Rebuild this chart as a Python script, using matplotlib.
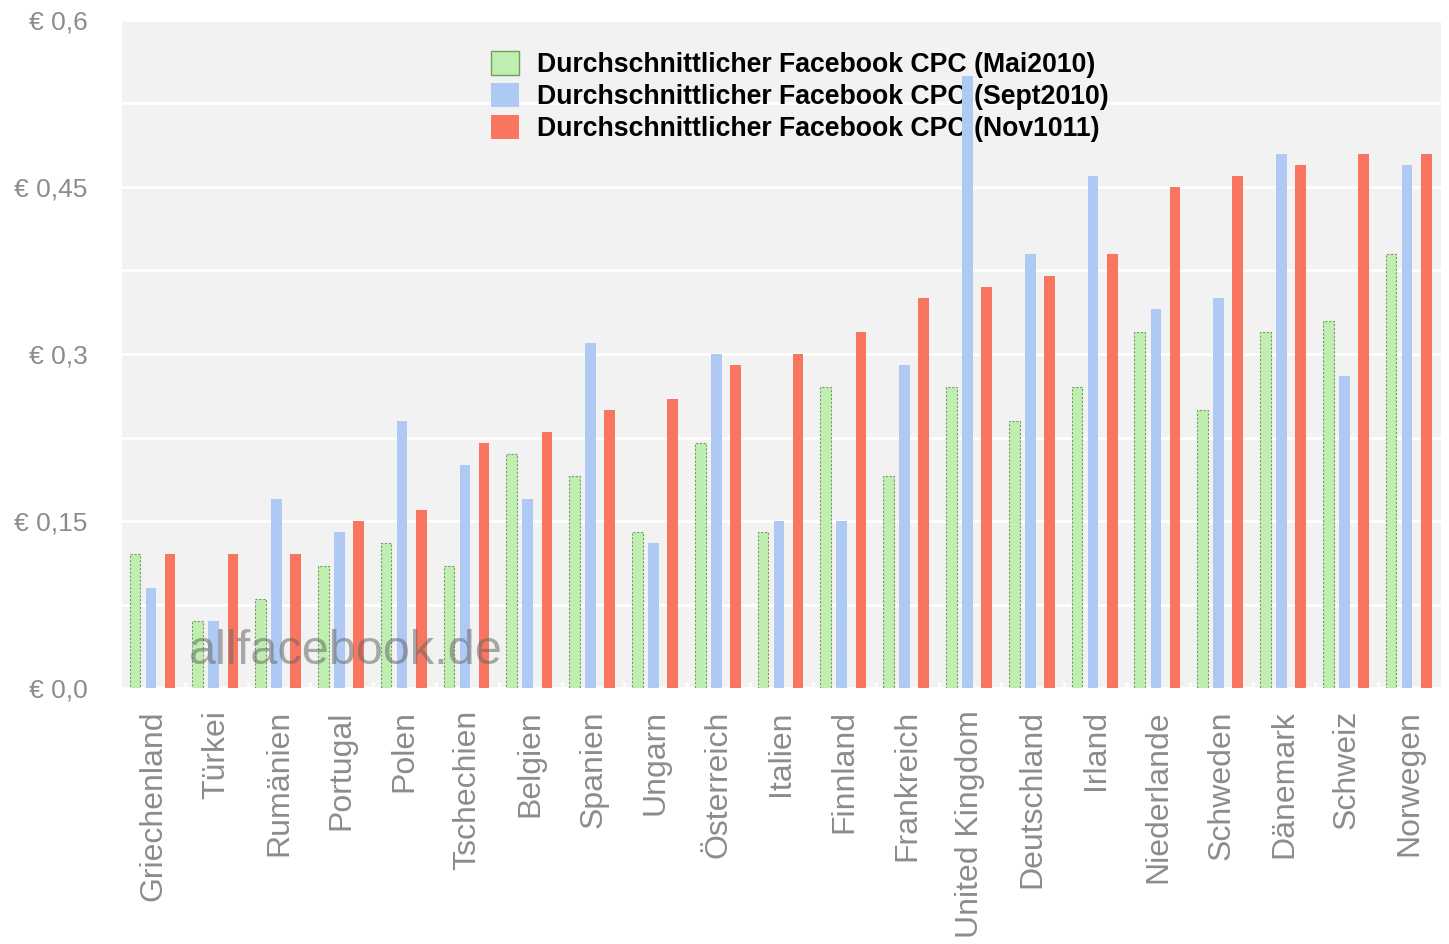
import matplotlib
matplotlib.use("Agg")
import matplotlib.pyplot as plt
import numpy as np
from matplotlib.patches import Patch

plt.rcParams["font.family"] = ["Liberation Sans", "DejaVu Sans"]

# data
countries = ["Griechenland", "Türkei", "Rumänien", "Portugal", "Polen", "Tschechien",
             "Belgien", "Spanien", "Ungarn", "Österreich", "Italien", "Finnland",
             "Frankreich", "United Kingdom", "Deutschland", "Irland", "Niederlande",
             "Schweden", "Dänemark", "Schweiz", "Norwegen"]
cpc_mai2010 = [0.12, 0.06, 0.08, 0.11, 0.13, 0.11, 0.21, 0.19, 0.14, 0.22, 0.14,
               0.27, 0.19, 0.27, 0.24, 0.27, 0.32, 0.25, 0.32, 0.33, 0.39]
cpc_sept2010 = [0.09, 0.06, 0.17, 0.14, 0.24, 0.20, 0.17, 0.31, 0.13, 0.30, 0.15,
                0.15, 0.29, 0.55, 0.39, 0.46, 0.34, 0.35, 0.48, 0.28, 0.47]
cpc_nov1011 = [0.12, 0.12, 0.12, 0.15, 0.16, 0.22, 0.23, 0.25, 0.26, 0.29, 0.30,
               0.32, 0.35, 0.36, 0.37, 0.39, 0.45, 0.46, 0.47, 0.48, 0.48]
series_labels = ["Durchschnittlicher Facebook CPC (Mai2010)",
                 "Durchschnittlicher Facebook CPC (Sept2010)",
                 "Durchschnittlicher Facebook CPC (Nov1011)"]
ytick_vals = [0.0, 0.15, 0.3, 0.45, 0.6]
ytick_labels = ["€ 0,0", "€ 0,15", "€ 0,3", "€ 0,45", "€ 0,6"]

GREEN, GREEN_EDGE = "#c0eeb0", "#6e9f5e"
BLUE = "#aecaf4"
RED = "#f8765f"
GRAY = "#8c8c8c"

fig = plt.figure(figsize=(14.49, 9.44), dpi=100)
ax = fig.add_axes([122 / 1449, 1 - 688 / 944, (1441 - 122) / 1449, (688 - 20) / 944])
ax.set_facecolor("#f2f2f2")

x = np.arange(len(countries))
w = 0.17
ax.bar(x + 0.12, cpc_mai2010, w, color=GREEN, edgecolor=GREEN_EDGE,
       linestyle=(0, (2, 1.5)), linewidth=0.8, zorder=3, align="edge")
ax.bar(x + 0.375, cpc_sept2010, w, color=BLUE, linewidth=0, zorder=3, align="edge")
ax.bar(x + 0.68, cpc_nov1011, w, color=RED, linewidth=0, zorder=3, align="edge")

ax.set_xlim(0, len(countries))
ax.set_ylim(0, 0.6)
ax.set_yticks(ytick_vals)
ax.set_yticklabels(ytick_labels, fontsize=19, color=GRAY)
ax.set_yticks(np.arange(0, 0.61, 0.075), minor=True)
ax.grid(True, axis="y", which="both", color="white", linewidth=2, zorder=1)
ax.tick_params(axis="y", which="both", length=0, pad=25)

ax.set_xticks(x + 0.5)
ax.set_xticklabels(countries, rotation=90, fontsize=23, color=GRAY)
ax.set_xticks(np.arange(1, len(countries)), minor=True)
ax.tick_params(axis="x", which="major", length=0, pad=16)
ax.tick_params(axis="x", which="minor", length=4, width=2, color="white", direction="in")
for s in ax.spines.values():
    s.set_visible(False)

handles = [Patch(facecolor=GREEN, edgecolor=GREEN_EDGE, linewidth=1),
           Patch(facecolor=BLUE, edgecolor="none"),
           Patch(facecolor=RED, edgecolor="none")]
leg = ax.legend(handles, series_labels, loc="upper left",
                bbox_to_anchor=(491 / 1449, 1 - 51 / 944), bbox_transform=fig.transFigure,
                frameon=False, prop={"weight": "bold", "size": 19.2},
                borderpad=0, borderaxespad=0,
                handlelength=1.05, handleheight=1.0, handletextpad=0.66, labelspacing=0.19)
leg.set_zorder(2)

ax.text(346 / 1449, 1 - 651 / 944, "allfacebook.de", transform=fig.transFigure, fontsize=35,
        color="#686868", alpha=0.55, ha="center", va="center", zorder=5)

fig.savefig("out.png", dpi=100)
